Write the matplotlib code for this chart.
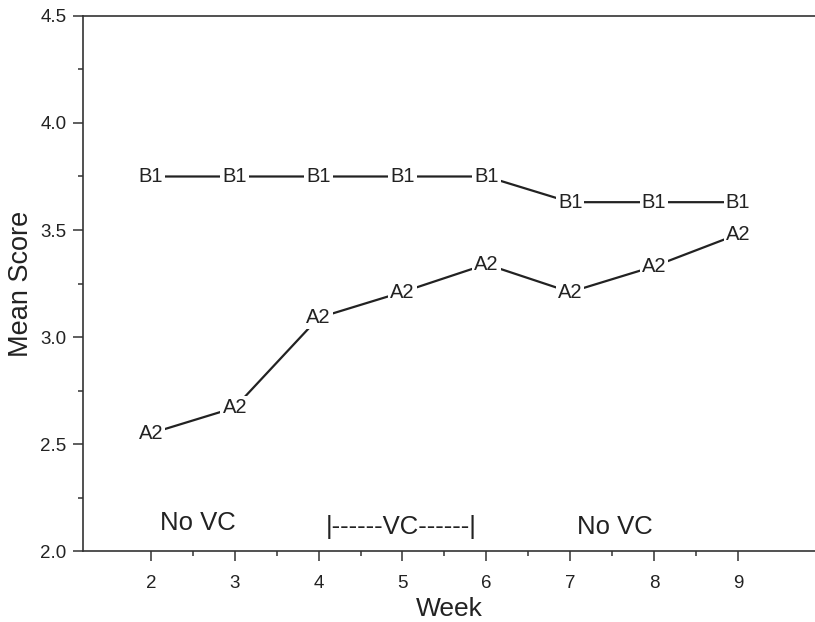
import matplotlib
matplotlib.use('Agg')
import matplotlib.pyplot as plt
from matplotlib.ticker import FixedLocator, MultipleLocator
import numpy as np

plt.rcParams['font.family'] = ['Liberation Sans', 'DejaVu Sans']

weeks = [2, 3, 4, 5, 6, 7, 8, 9]
b1 = [3.75, 3.75, 3.75, 3.75, 3.75, 3.63, 3.63, 3.63]
a2 = [2.55, 2.67, 3.09, 3.21, 3.34, 3.21, 3.33, 3.48]
phase_text = ['No VC', '|------VC------|', 'No VC']
phase_x = [2.56, 4.98, 7.53]
phase_y = [2.13, 2.11, 2.11]

ink = '#222222'

fig = plt.figure(figsize=(8.15, 6.22), dpi=100)
ax = fig.add_axes([0.1018, 0.1141, 0.8982, 0.8602])

def draw_series(xs, ys, label):
    ax.plot(xs, ys, color=ink, lw=1.6, zorder=2, solid_capstyle='butt')
    for x, y in zip(xs, ys):
        ax.text(x, y, label, ha='center', va='center', fontsize=14.5, color=ink, zorder=3,
                bbox=dict(boxstyle='square,pad=0.1', fc='white', ec='none'))

draw_series(weeks, b1, 'B1')
draw_series(weeks, a2, 'A2')

for t, x, y in zip(phase_text, phase_x, phase_y):
    ax.text(x, y, t, ha='center', va='center', fontsize=18.5, color=ink)

ax.set_xlim(1.19, 9.92)
ax.set_ylim(2.0, 4.5)
ax.xaxis.set_major_locator(FixedLocator(weeks))
ax.xaxis.set_minor_locator(FixedLocator(np.arange(2.5, 9, 1)))
ax.yaxis.set_major_locator(MultipleLocator(0.5))
ax.yaxis.set_minor_locator(MultipleLocator(0.25))
ax.yaxis.set_major_formatter(matplotlib.ticker.FormatStrFormatter('%.1f'))

ax.spines['right'].set_visible(False)
for s in ['left', 'bottom', 'top']:
    ax.spines[s].set_linewidth(1.2)
    ax.spines[s].set_color('#333333')

ax.tick_params(axis='x', which='major', length=7, width=1.1, pad=10, labelsize=13.5, colors='#333333', labelcolor=ink)
ax.tick_params(axis='x', which='minor', length=3.5, width=1.1, colors='#333333')
ax.tick_params(axis='y', which='major', length=7, width=1.1, pad=5, labelsize=13.5, colors='#333333', labelcolor=ink)
ax.tick_params(axis='y', which='minor', length=3.5, width=1.1, colors='#333333')

ax.set_xlabel('Week', fontsize=19, color=ink, labelpad=4)
ax.set_ylabel('Mean Score', fontsize=19.5, color=ink, labelpad=4)

fig.savefig('out.png', dpi=100)
